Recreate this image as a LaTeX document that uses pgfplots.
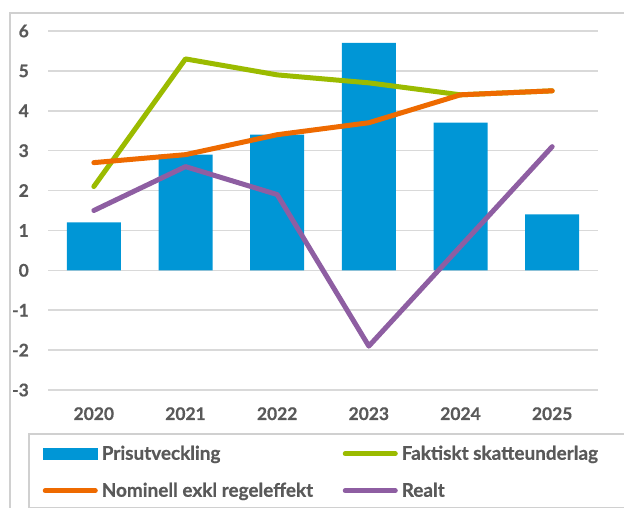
\documentclass[border=0pt]{standalone}
\usepackage{fontspec}
\setmainfont{Lato}[BoldFeatures={FakeBold=0.6}]
\usepackage{pgfplots}
\pgfplotsset{compat=1.18}
\definecolor{barblue}{HTML}{0096D6}
\definecolor{lgreen}{HTML}{9BBB00}
\definecolor{lorange}{HTML}{EE6A00}
\definecolor{lpurple}{HTML}{8E5EA2}
\definecolor{txt}{HTML}{595959}
\definecolor{gridc}{HTML}{D9D9D9}
\definecolor{framec}{HTML}{D0D0D0}
\pgfplotsset{
  lineleg/.style={legend image code/.code={\draw[##1] (2.5bp,6bp) -- (52.5bp,6bp);}},
  barleg/.style={legend image code/.code={\fill[barblue] (0bp,0bp) rectangle (55bp,12bp);}},
}
\begin{document}
\begin{tikzpicture}[x=1bp,y=1bp]
\useasboundingbox (0,0) rectangle (624,508);
\draw[framec, line width=1.5bp] (10,-5) -- (10,495) -- (640,495);
\begin{axis}[
  at={(48bp,118bp)}, anchor=south west,
  scale only axis, width=550bp, height=359bp,
  xmin=-0.5, xmax=5.5, ymin=-3, ymax=6,
  axis line style={draw=none},
  tick style={draw=none}, major tick length=0pt,
  ymajorgrids, grid style={gridc, line width=1.5bp},
  xtick={0,1,2,3,4,5}, xticklabels={2020,2021,2022,2023,2024,2025},
  ytick={-3,-2,-1,0,1,2,3,4,5,6},
  /pgf/number format/assume math mode=true,
  tick label style={font=\bfseries\fontsize{17.5}{20}\selectfont, text=txt, inner sep=0pt},
  yticklabel style={anchor=east, xshift=-19bp},
  xticklabel style={anchor=base, yshift=-30bp},
  legend columns=2,
  legend style={at={(-0.03636,-0.1198)}, anchor=north west,
    draw=framec, line width=1.5bp, fill=white,
    inner xsep=14bp, inner ysep=10bp,
    font=\bfseries\fontsize{19}{22}\selectfont, text=txt,
    cells={anchor=base west},
    nodes={inner sep=0pt, text height=16bp, text depth=1bp},
    row sep=20bp,
    /tikz/every odd column/.append style={column sep=4bp},
    /tikz/every even column/.append style={column sep=0bp}},
]
\addplot[ybar, bar width=54bp, fill=barblue, draw=none, barleg]
  coordinates {(0,1.2) (1,2.9) (2,3.4) (3,5.7) (4,3.7) (5,1.4)};
\addlegendentry{\makebox[241bp][l]{Prisutveckling}}
\addplot[sharp plot, lgreen, line width=5bp, line join=round, line cap=round, lineleg]
  coordinates {(0,2.1) (1,5.3) (2,4.9) (3,4.7) (4,4.4) (5,4.5)};
\addlegendentry{\makebox[240bp][l]{Faktiskt skatteunderlag}}
\addplot[sharp plot, lorange, line width=5bp, line join=round, line cap=round, lineleg]
  coordinates {(0,2.7) (1,2.9) (2,3.4) (3,3.7) (4,4.4) (5,4.5)};
\addlegendentry{\makebox[241bp][l]{Nominell exkl regeleffekt}}
\addplot[sharp plot, lpurple, line width=5bp, line join=round, line cap=round, lineleg]
  coordinates {(0,1.5) (1,2.6) (2,1.9) (3,-1.9) (4,0.6) (5,3.1)};
\addlegendentry{\makebox[240bp][l]{Realt}}
\end{axis}
\end{tikzpicture}
\end{document}
